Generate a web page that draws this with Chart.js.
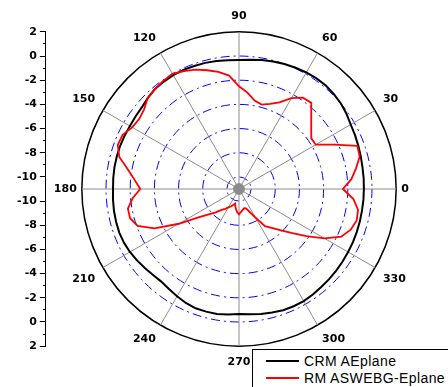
<!DOCTYPE html>
<html>
<head>
<meta charset="utf-8">
<script src="https://cdn.jsdelivr.net/npm/chart.js@4/dist/chart.umd.min.js"></script>
<style>
html, body { margin: 0; padding: 0; background: #fff; }
#wrap { position: relative; width: 448px; height: 387px; }
#legend { position: absolute; left: 252px; top: 349px; width: 200px; height: 40px; border: 1px solid #000;
  background: #fff; box-sizing: border-box; font: 14px "Liberation Sans", Arial, sans-serif; letter-spacing: 0.4px; color: #000; }
#legend .item { position: absolute; left: 13px; height: 16px; display: flex; align-items: center; white-space: nowrap; }
#legend .item i { display: inline-block; width: 33px; height: 2px; margin-right: 5px; }
</style>
</head>
<body>
<div id="wrap">
  <canvas id="grafico"></canvas>
  <div id="legend">
    <div class="item" style="top:3px"><i style="background:#000"></i>CRM AEplane</div>
    <div class="item" style="top:20px"><i style="background:#f00"></i>RM ASWEBG-Eplane</div>
  </div>
</div>
<script>
// angulos (grados), cada 5
const ANGLES = [0,5,10,15,20,25,30,35,40,45,50,55,60,65,70,75,80,85,90,95,100,105,110,115,
  120,125,130,135,140,145,150,155,160,165,170,175,180,185,190,195,200,205,210,215,220,225,230,235,
  240,245,250,255,260,265,270,275,280,285,290,295,300,305,310,315,320,325,330,335,340,345,350,355];

// CRM AEplane (dB)
const CRM_AE = [-0.67,-0.65,-0.63,-0.57,-0.5,-0.42,-0.33,-0.15,0.0,0.1,0.17,0.17,
  0.13,0.07,0.0,-0.08,-0.17,-0.27,-0.33,-0.3,-0.25,-0.2,-0.17,-0.13,
  -0.13,-0.15,-0.2,-0.35,-0.5,-0.55,-0.58,-0.56,-0.54,-0.54,-0.54,-0.56,
  -0.58,-0.54,-0.5,-0.48,-0.46,-0.5,-0.58,-0.7,-0.83,-0.95,-1.0,-0.9,
  -0.75,-0.6,-0.5,-0.5,-0.5,-0.58,-0.67,-0.6,-0.5,-0.42,-0.33,-0.3,
  -0.29,-0.35,-0.42,-0.46,-0.5,-0.54,-0.58,-0.6,-0.63,-0.65,-0.67,-0.67];

// RM ASWEBG-Eplane (dB)
const RM_ASWEBG = [-2.4,-1.67,-1.17,-0.67,-0.58,-2.3,-3.67,-3.7,-3.2,-2.55,-1.7,-1.78,
  -2.33,-3.1,-3.5,-3.77,-3.58,-3.0,-2.5,-1.58,-1.17,-0.83,-0.5,-0.25,
  0.0,-0.08,-0.2,-0.33,-0.75,-0.92,-0.8,-0.38,-0.33,-0.75,-1.67,-2.33,
  -2.83,-2.17,-1.67,-1.67,-2.08,-3.3,-5.25,-6.9,-7.73,-8.27,-8.75,-9.0,
  -9.25,-9.4,-9.6,-9.75,-9.4,-9.1,-8.9,-9.1,-9.25,-9.35,-9.3,-8.9,
  -8.25,-7.25,-6.8,-6.2,-5.35,-4.2,-2.83,-1.67,-1.17,-0.92,-1.0,-1.5];

// circulo gris del centro
const CENTER_DOT = new Array(ANGLES.length).fill(-10.55);

const R_MIN = -11, R_MAX = 2;
const RING_TICKS = [-11, -10, -8, -6, -4, -2, 0, 2];
// eje vertical izquierdo: distancia al centro (unidades), arriba y abajo
const AXIS_TICKS = [-13,-12,-11,-10,-9,-8,-7,-6,-5,-4,-3,-2,-1,1,2,3,4,5,6,7,8,9,10,11,12,13];

// Chart.js gira en sentido horario desde arriba: invertimos el orden para ir antihorario desde la derecha
const order = ANGLES.map((a, i) => (ANGLES.length - i) % ANGLES.length);
const pick = arr => order.map(k => arr[k]);

const fontLbl = { family: 'DejaVu Sans', weight: 'bold', size: 11 };

// alinea el eje vertical con el circulo polar
const alignAxis = {
  id: 'alignAxis',
  afterLayout(chart) {
    const r = chart.scales.r, y = chart.scales.y;
    y.top = r.yCenter - r.drawingArea;
    y.bottom = r.yCenter + r.drawingArea;
    y.height = y.bottom - y.top;
    y.configure();
  }
};

const ctx = document.getElementById('grafico').getContext('2d');
new Chart(ctx, {
  type: 'radar',
  data: {
    labels: pick(ANGLES),
    datasets: [
      { label: 'RM ASWEBG-Eplane', data: pick(RM_ASWEBG), borderColor: '#ff0000', borderWidth: 1.8,
        pointRadius: 0, fill: false, tension: 0 },
      { label: 'CRM AEplane', data: pick(CRM_AE), borderColor: '#000000', borderWidth: 2,
        pointRadius: 0, fill: false, tension: 0 },
      { label: 'centro', data: pick(CENTER_DOT), borderColor: '#8a8a8a', backgroundColor: '#8a8a8a',
        borderWidth: 1, pointRadius: 0, fill: 'start' }
    ]
  },
  options: {
    responsive: true,
    maintainAspectRatio: false,
    animation: false,
    layout: { padding: { left: 14, right: 31, top: 5, bottom: 18 } },
    plugins: { legend: { display: false }, tooltip: { enabled: false } },
    scales: {
      r: {
        min: R_MIN, max: R_MAX, startAngle: 90,
        afterBuildTicks: s => { s.ticks = RING_TICKS.map(v => ({ value: v })); },
        ticks: { display: false },
        grid: {
          circular: true,
          color: c => !c.tick ? '#000' : c.tick.value === R_MAX ? '#000' : (c.tick.value >= -10 ? '#0000ff' : 'rgba(0,0,0,0)'),
          lineWidth: c => c.tick && c.tick.value === R_MAX ? 1.5 : 1
        },
        border: { dash: c => c.tick && c.tick.value !== R_MAX ? [9, 4, 2, 4] : [] },
        angleLines: {
          display: true,
          color: c => c.index % 6 === 0 ? '#8c8c8c' : 'rgba(0,0,0,0)',
          lineWidth: c => c.index % 6 === 0 ? 1 : 0
        },
        pointLabels: {
          display: true, color: '#000', font: fontLbl,
          padding: c => (c.label === '0' || c.label === '180') ? 5 : 9,
          callback: label => label % 30 === 0 ? String(label) : ''
        }
      },
      y: {
        type: 'linear', position: 'left', min: -13, max: 13,
        afterBuildTicks: s => { s.ticks = AXIS_TICKS.map(v => ({ value: v })); },
        ticks: {
          autoSkip: false, padding: 3, color: '#000', font: fontLbl,
          callback: v => Math.abs(v) % 2 === 1 ? String(Math.abs(v) + R_MIN) : ''
        },
        grid: {
          drawOnChartArea: false, tickLength: 6, color: '#000', lineWidth: 1,
          tickBorderDash: c => c.tick && Math.abs(c.tick.value) % 2 === 0 ? [3, 3] : [],
          tickBorderDashOffset: c => c.tick && Math.abs(c.tick.value) % 2 === 0 ? 3 : 0
        },
        border: { display: true, color: '#000', width: 1 }
      }
    }
  },
  plugins: [alignAxis]
});
</script>
</body>
</html>
